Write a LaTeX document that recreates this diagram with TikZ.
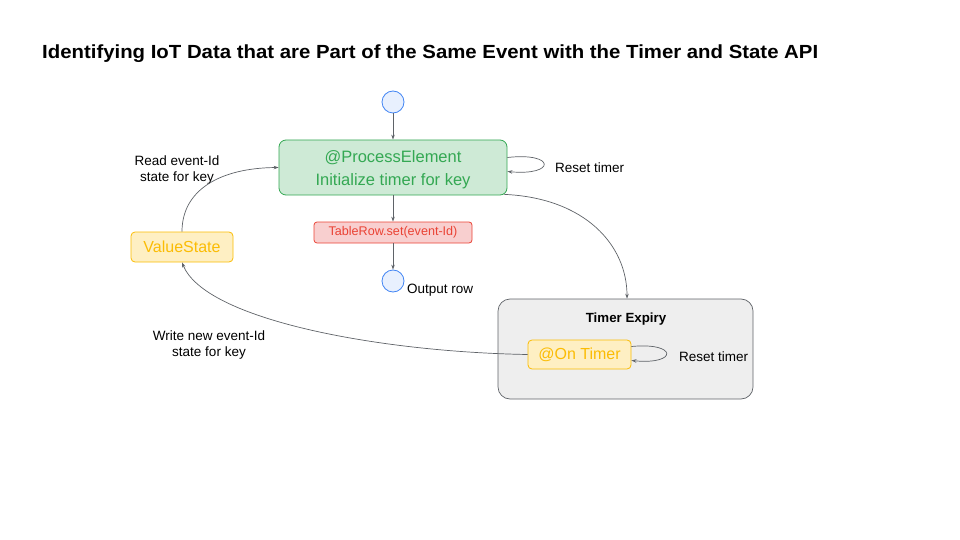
\documentclass[tikz,border=0pt]{standalone}
\usepackage{fontspec}
\setmainfont{Liberation Sans}
\usetikzlibrary{arrows.meta}
\definecolor{arrowgray}{HTML}{5F6368}
\definecolor{gfill}{HTML}{CEEAD6}
\definecolor{gline}{HTML}{34A853}
\definecolor{rfill}{HTML}{F8CFCF}
\definecolor{rline}{HTML}{EA4335}
\definecolor{yfill}{HTML}{FEEFC3}
\definecolor{yline}{HTML}{FBBC04}
\definecolor{bfill}{HTML}{E8F0FE}
\definecolor{bline}{HTML}{4285F4}
\definecolor{boxfill}{HTML}{EEEEEE}
\tikzset{
  conn/.style={draw=arrowgray, line width=0.7pt, -{Stealth[length=5pt,width=3.5pt]}},
  dot/.style={circle, draw=bline, fill=bfill, line width=0.8pt, minimum size=22pt, inner sep=0pt},
  greenbox/.style={draw=gline, fill=gfill, rounded corners=7pt, line width=0.8pt},
  greentext/.style={text=gline, font=\fontsize{16.5}{23}\selectfont, align=center, inner sep=0pt},
  redbox/.style={draw=rline, fill=rfill, rounded corners=3pt, line width=0.8pt, text=rline, font=\fontsize{12.6}{14}\selectfont},
  yellowbox/.style={draw=yline, fill=yfill, rounded corners=4pt, line width=0.8pt, text=yline, font=\fontsize{16}{18}\selectfont},
  lbl/.style={text=black, font=\fontsize{13.5}{16.5}\selectfont, align=center, inner sep=0pt},
}
\begin{document}
\begin{tikzpicture}[x=1pt,y=-1pt]
\useasboundingbox (0,0) rectangle (960,540);
\node[anchor=west, inner sep=0pt] (title) at (42,54) {\resizebox{776pt}{\height}{\fontsize{19}{22}\selectfont\bfseries Identifying IoT Data that are Part of the Same Event with the Timer and State API}};

% Timer expiry container
\node[draw=arrowgray, fill=boxfill, rounded corners=12pt, line width=0.7pt, minimum width=255pt, minimum height=100pt, inner sep=0pt] (te) at (625.5,349) {};
\node[font=\fontsize{13.3}{15}\selectfont\bfseries, inner sep=0pt] (tetitle) at (626,319) {Timer Expiry};

\node[dot] (start) at (393,102) {};
\node[greenbox, minimum width=228pt, minimum height=55pt, inner sep=0pt] (pe) at (393,167.5) {};
\node[greentext] (petext) at (393,170) {@ProcessElement\\Initialize timer for key};
\node[redbox, minimum width=158pt, minimum height=21pt, inner sep=0pt] (tr) at (393,232.5) {TableRow.set(event-Id)};
\node[dot] (out) at (393,281) {};
\node[lbl, anchor=west] (outl) at (407,290) {Output row};
\node[yellowbox, minimum width=102pt, minimum height=30pt, inner sep=0pt] (vs) at (182,247) {ValueState};
\node[yellowbox, minimum width=103pt, minimum height=29pt, inner sep=0pt] (ot) at (579.5,354.5) {@On Timer};

\node[lbl] (readl) at (177,170) {Read event-Id\\state for key};
\node[lbl] (writel) at (209,345) {Write new event-Id\\state for key};
\node[lbl, anchor=west] (rt1) at (555,168) {Reset timer};
\node[lbl, anchor=west] (rt2) at (679,357) {Reset timer};

\draw[conn] (start) -- (pe);
\draw[conn] (pe) -- (tr);
\draw[conn] (tr) -- (out);
\draw[conn] (vs.north) .. controls (182,190) and (220,168) .. (pe.west);
\draw[conn] (ot.west) .. controls (380,352) and (205,320) .. (vs.south);
\draw[conn] (pe.south east) ++(-3,-1) .. controls (585,198) and (627,245) .. (te.north -| 627,0);
\draw[conn] ([yshift=10pt]pe.east) .. controls (556,152) and (556,176) .. ([yshift=-4pt]pe.east);
\draw[conn] ([yshift=8pt]ot.east) .. controls (678,342) and (678,365) .. ([yshift=-6pt]ot.east);
\end{tikzpicture}
\end{document}
